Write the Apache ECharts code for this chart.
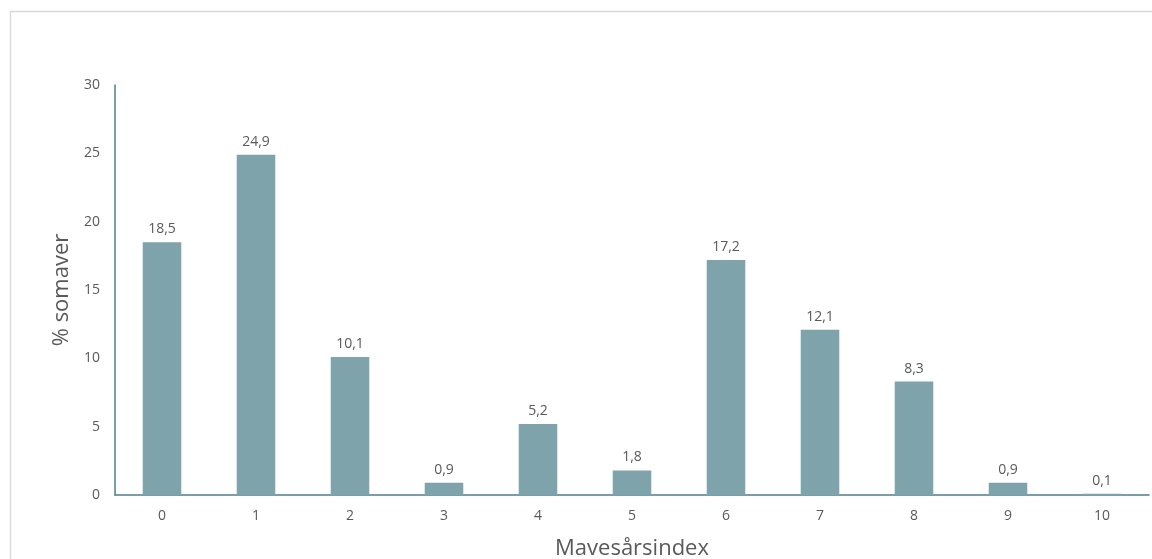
<!DOCTYPE html>
<html><head><meta charset="utf-8">
<script src="https://cdn.jsdelivr.net/npm/echarts@6/dist/echarts.min.js"></script>
<style>html,body{margin:0;padding:0;background:#fff}#c{width:1152px;height:559px}</style>
</head><body><div id="c"></div>
<script>
const categories = ['0','1','2','3','4','5','6','7','8','9','10'];
const values = [18.5, 24.9, 10.1, 0.9, 5.2, 1.8, 17.2, 12.1, 8.3, 0.9, 0.1];
const yTicks = [0, 5, 10, 15, 20, 25, 30];

const chart = echarts.init(document.getElementById('c'));
chart.setOption({
  animation: false,
  textStyle: { fontFamily: '"Open Sans", "Noto Sans", sans-serif' },
  graphic: [{
    type: 'rect', left: 8, top: 9, shape: { width: 1200, height: 600 },
    style: { fill: 'none', stroke: '#d9d9d9', lineWidth: 1.5 }, silent: true, z: -1
  }],
  grid: { left: 115, right: 3, top: 85, bottom: 64, containLabel: false, outerBoundsMode: 'none' },
  xAxis: {
    type: 'category', data: categories,
    name: 'Mavesårsindex', nameLocation: 'middle', nameGap: 43,
    nameTextStyle: { fontSize: 22, color: '#595959' },
    axisLine: { lineStyle: { color: '#4d7f8c', width: 1.5 } },
    axisTick: { show: false },
    axisLabel: { color: '#595959', fontSize: 14, margin: 14 }
  },
  yAxis: {
    type: 'value', min: yTicks[0], max: yTicks[yTicks.length - 1], interval: 5,
    name: '% somaver', nameLocation: 'middle', nameGap: 40,
    nameTextStyle: { fontSize: 22, color: '#595959' },
    axisLine: { show: true, lineStyle: { color: '#4d7f8c', width: 1.5 } },
    axisTick: { show: false },
    splitLine: { show: false },
    axisLabel: { color: '#595959', fontSize: 14, margin: 15 }
  },
  series: [{
    type: 'bar', data: values, barWidth: '41%',
    itemStyle: { color: '#7ea3aa' },
    label: {
      show: true, position: 'top', distance: 6, color: '#595959', fontSize: 14,
      formatter: p => String(p.value).replace('.', ',')
    }
  }]
});
</script></body></html>
